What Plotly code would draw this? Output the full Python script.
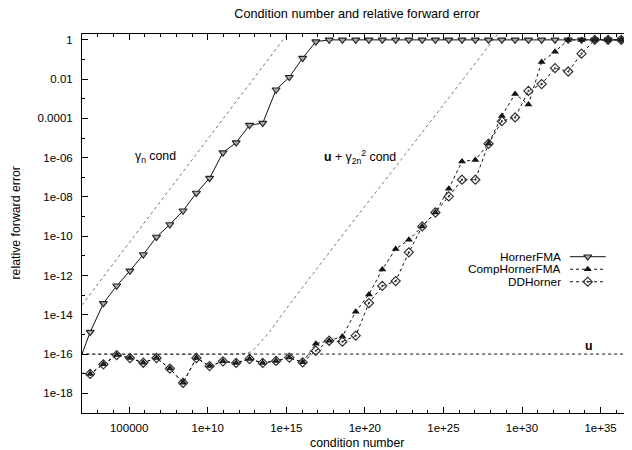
import plotly.graph_objects as go

# ---- data (log10 exponents) ----
cond_exp = [1.67, 2.52, 3.36, 4.21, 5.05, 5.90, 6.74, 7.59, 8.43, 9.28, 10.12,
            10.97, 11.81, 12.66, 13.50, 14.35, 15.19, 16.04, 16.88, 17.73, 18.57,
            19.42, 20.26, 21.11, 21.96, 22.80, 23.65, 24.49, 25.34, 26.18, 27.03,
            27.87, 28.72, 29.56, 30.41, 31.25, 32.10, 32.94, 33.79, 34.63, 35.48, 36.32]

horner_exp = [-16.70, -14.88, -13.42, -12.52, -11.76, -10.93, -10.04, -9.40, -8.70,
              -7.80, -7.04, -5.74, -5.23, -4.34, -4.24, -2.54, -1.90, -0.93, -0.09,
              0, 0, 0, 0, 0, 0, 0, 0, 0, 0, 0, 0, 0, 0, 0, 0, 0, 0, 0, 0, 0, 0, 0]

comp_exp = [-16.95, -17.01, -16.52, -16.05, -16.20, -16.44, -16.20, -16.74, -17.46,
            -16.20, -16.61, -16.37, -16.45, -16.25, -16.45, -16.35, -16.18, -16.42,
            -15.47, -15.32, -15.10, -13.84, -12.96, -11.69, -10.65, -10.18, -9.50,
            -8.79, -7.58, -6.19, -6.11, -5.29, -3.87, -2.75, -3.29, -1.12, -0.60,
            0, 0, 0, 0, 0]

dd_exp = [-16.95, -17.01, -16.52, -16.05, -16.20, -16.44, -16.20, -16.74, -17.46,
          -16.20, -16.61, -16.37, -16.45, -16.25, -16.45, -16.35, -16.18, -16.42,
          -15.83, -15.32, -15.37, -15.06, -13.40, -12.53, -12.28, -10.82, -9.50,
          -8.79, -7.97, -7.12, -7.12, -5.29, -4.14, -3.95, -2.60, -2.25, -1.44,
          -1.61, -0.70, 0, 0, 0]

# bound "gamma_n cond"
gamma_x_exp = [2.0, 16.0]
gamma_y_exp = [-13.50, 1.28]

# bound "u + gamma_2n^2 cond"
bound2_x_exp = [1.5, 11.5, 12.2, 12.7, 13.3, 13.9, 14.8, 16.9, 19.2, 22.3, 25.4, 28.5, 29.5]
bound2_y_exp = [-16.0, -16.0, -15.97, -15.9, -15.45, -14.9, -13.91, -11.70, -9.3, -6.1, -2.89, 0.34, 1.38]

# unit roundoff u
u_x_exp = [1.5, 37.5]
u_value = 1.0e-16

x_major = [1e5, 1e10, 1e15, 1e20, 1e25, 1e30, 1e35]
x_major_text = ["100000", "1e+10", "1e+15", "1e+20", "1e+25", "1e+30", "1e+35"]
y_major = [1.0, 1e-2, 1e-4, 1e-6, 1e-8, 1e-10, 1e-12, 1e-14, 1e-16, 1e-18]
y_major_text = ["1", "0.01", "0.0001", "1e-06", "1e-08", "1e-10", "1e-12",
                "1e-14", "1e-16", "1e-18"]

series_names = ["HornerFMA", "CompHornerFMA", "DDHorner"]

# ---- figure ----
FONT = "Liberation Sans, Arial, Helvetica, sans-serif"
TXT = 12.3
pw = lambda e: [10.0 ** v for v in e]

# page body has an 8px margin: figure is laid out to fill the rest of the window
W, H = 624, 442

fig = go.Figure()

fig.add_trace(go.Scatter(x=pw(gamma_x_exp), y=pw(gamma_y_exp), mode="lines",
                         line=dict(color="#777", width=1, dash="dot"), showlegend=False))
fig.add_trace(go.Scatter(x=pw(bound2_x_exp), y=pw(bound2_y_exp), mode="lines",
                         line=dict(color="#777", width=1, dash="dot", shape="spline"),
                         showlegend=False))
fig.add_trace(go.Scatter(x=pw(u_x_exp), y=[u_value, u_value], mode="lines",
                         line=dict(color="#111", width=1, dash="dot"), showlegend=False))

styles = [
    dict(line=dict(color="#111", width=1),
         marker=dict(symbol="triangle-down", size=7, color="#aaa",
                     line=dict(width=1.1, color="#222"))),
    dict(line=dict(color="#111", width=1, dash="dot"),
         marker=dict(symbol="triangle-up", size=7, color="#111")),
    dict(line=dict(color="#111", width=1, dash="dot"),
         marker=dict(symbol="diamond-open-dot", size=7, color="#333",
                     line=dict(width=1.2, color="#333"))),
]
for name, ys, st in zip(series_names, [horner_exp, comp_exp, dd_exp], styles):
    fig.add_trace(go.Scatter(x=pw(cond_exp), y=pw(ys), mode="lines+markers", name=name,
                             line=st["line"], marker=st["marker"], showlegend=False,
                             cliponaxis=True))

# legend (gnuplot style: text then sample) on an overlay axis
leg_y = [0.4124, 0.3792, 0.3464]
for name, ly, st in zip(series_names, leg_y, styles):
    fig.add_trace(go.Scatter(x=[0.8873, 0.9522], y=[ly, ly], mode="lines",
                             line=st["line"], xaxis="x2", yaxis="y2", showlegend=False))
    fig.add_trace(go.Scatter(x=[0.9195], y=[ly], mode="markers", marker=st["marker"],
                             xaxis="x2", yaxis="y2", showlegend=False))
    fig.add_annotation(x=0.8722, y=ly, xref="paper", yref="paper", text=name,
                       showarrow=False, xanchor="right", yanchor="middle", borderpad=0,
                       height=12.4, valign="middle",
                       font=dict(family=FONT, size=11.8, color="black"))

fig.add_annotation(x=0.0927, y=0.6763, xref="paper", yref="paper",
                   text="γ<sub>n</sub> cond", showarrow=False, xanchor="left",
                   yanchor="middle", font=dict(family=FONT, size=TXT, color="black"))
fig.add_annotation(x=0.4358, y=0.6763, xref="paper", yref="paper",
                   text="<b>u</b> + γ<sub>2n</sub><sup>2</sup> cond", showarrow=False,
                   xanchor="left", yanchor="middle", font=dict(family=FONT, size=TXT, color="black"))
fig.add_annotation(x=0.9224, y=0.1768, xref="paper", yref="paper", text="<b>u</b>",
                   showarrow=False, xanchor="center", yanchor="middle",
                   font=dict(family=FONT, size=TXT, color="black"))

# axis titles
fig.add_annotation(x=0.5, y=-0.0792, xref="paper", yref="paper", text="condition number",
                   showarrow=False, xanchor="center", yanchor="middle",
                   font=dict(family=FONT, size=TXT, color="black"))
fig.add_annotation(x=-0.1218, y=0.5, xref="paper", yref="paper", text="relative forward error",
                   showarrow=False, xanchor="center", yanchor="middle", textangle=-90,
                   font=dict(family=FONT, size=TXT, color="black"))

axis_common = dict(showline=True, linecolor="black", linewidth=1, mirror="allticks",
                   ticks="inside", ticklen=6, tickcolor="black", tickwidth=1,
                   showgrid=False, zeroline=False,
                   tickfont=dict(family=FONT, size=11.5, color="black"))

fig.update_layout(
    width=W, height=H,
    margin=dict(l=74, r=0, t=26, b=37),
    paper_bgcolor="white", plot_bgcolor="white",
    title=dict(text="Condition number and relative forward error", x=0.5, xref="paper",
               y=1 - 6 / H, yref="container", xanchor="center", yanchor="middle",
               font=dict(family=FONT, size=12.7, color="black")),
    xaxis=dict(type="log", range=[2.0, 37.0], tickmode="array", tickvals=x_major,
               ticktext=x_major_text, ticklabelstandoff=4,
               minor=dict(tickmode="array", tickvals=[10.0 ** k for k in range(2, 38)],
                          ticks="inside", ticklen=3, tickcolor="black"),
               **axis_common),
    yaxis=dict(type="log", range=[-19.0, 0.30], tickmode="array", tickvals=y_major,
               ticktext=y_major_text, ticklabelstandoff=6,
               minor=dict(tickmode="array", tickvals=[10.0 ** (-k) for k in range(0, 20)],
                          ticks="inside", ticklen=3, tickcolor="black"),
               **axis_common),
    xaxis2=dict(overlaying="x", range=[0, 1], visible=False, domain=[0, 1]),
    yaxis2=dict(overlaying="y", range=[0, 1], visible=False, domain=[0, 1]),
    showlegend=False,
)

fig.write_html("out.html")
